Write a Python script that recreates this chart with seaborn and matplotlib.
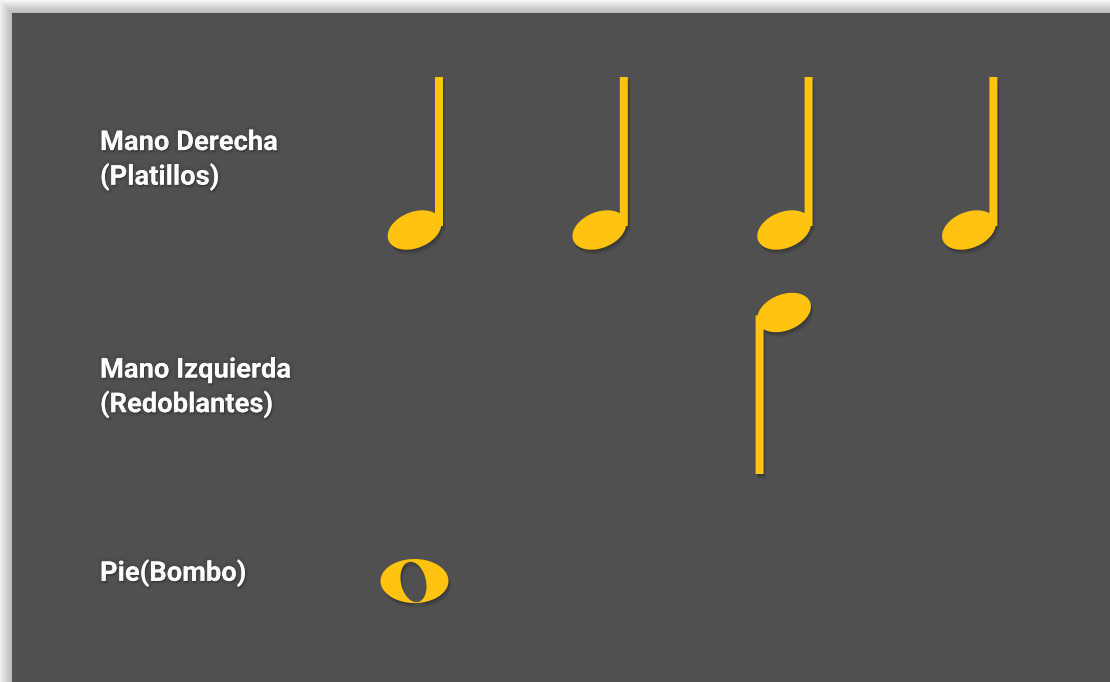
import numpy as np
import pandas as pd
import matplotlib
matplotlib.use("Agg")
import matplotlib.pyplot as plt
import matplotlib.patheffects as pe
import matplotlib.transforms as mtransforms
from matplotlib.path import Path
from matplotlib.patches import Rectangle
import seaborn as sns

# datos del ritmo (un compas de 4 tiempos)
voces = ["Mano Derecha\n(Platillos)", "Mano Izquierda\n(Redoblantes)", "Pie(Bombo)"]
tiempos_mano_derecha = [1, 2, 3, 4]
tiempos_mano_izquierda = [3]
tiempos_pie = [1]
figuras = ["negra_arriba", "negra_abajo", "redonda"]

golpes = pd.DataFrame({
    "voz": [voces[0]] * len(tiempos_mano_derecha)
    + [voces[1]] * len(tiempos_mano_izquierda)
    + [voces[2]] * len(tiempos_pie),
    "tiempo": tiempos_mano_derecha + tiempos_mano_izquierda + tiempos_pie,
})
golpes["fila"] = golpes["voz"].map({v: i for i, v in enumerate(voces)})

# estilo
AMARILLO = "#FFC20E"
GRIS = "#505050"
W, H, DPI = 1110, 682, 100

sns.set_theme(style="white")
plt.rcParams["font.family"] = ["Roboto", "DejaVu Sans"]


# figuras musicales como paths (unidades en pixeles, y hacia arriba)
def elipse(cx, cy, a, b, ang, n=120, reverso=False):
    t = np.linspace(0, 2 * np.pi, n, endpoint=False)
    if reverso:
        t = t[::-1]
    x, y = a * np.cos(t), b * np.sin(t)
    r = np.deg2rad(ang)
    pts = np.column_stack([cx + x * np.cos(r) - y * np.sin(r),
                           cy + x * np.sin(r) + y * np.cos(r)])
    pts = np.vstack([pts, pts[:1]])
    codes = [Path.MOVETO] + [Path.LINETO] * (n - 1) + [Path.CLOSEPOLY]
    return pts, codes


def rectangulo(x0, x1, y0, y1):
    pts = np.array([(x0, y0), (x1, y0), (x1, y1), (x0, y1), (x0, y0)], float)
    codes = [Path.MOVETO, Path.LINETO, Path.LINETO, Path.LINETO, Path.CLOSEPOLY]
    return pts, codes


def juntar(*partes):
    pts = np.vstack([p[0] for p in partes])
    codes = sum([list(p[1]) for p in partes], [])
    return Path(pts, codes)


glifos = {
    "negra_arriba": juntar(elipse(0, -70, 28, 18, 22),
                           rectangulo(20.5, 28.5, -66, 83)),
    "negra_abajo": juntar(elipse(0, 54, 28, 18, 22),
                          rectangulo(-28.5, -20.5, -107.5, 51)),
    "redonda": juntar(elipse(0, -8, 34, 22, 0),
                      elipse(-1, -9, 20.5, 12.5, 103, reverso=True)),
}

sombra = [pe.SimplePatchShadow(offset=(0.3 * k, -0.6 * k), shadow_rgbFace="black", alpha=0.05)
          for k in range(1, 7)] + [pe.Normal()]

fig = plt.figure(figsize=(W / DPI, H / DPI), dpi=DPI)
fig.patch.set_facecolor("white")

# fondo: panel gris con sombra
fondo = fig.add_axes([0, 0, 1, 1])
fondo.set_xlim(0, W)
fondo.set_ylim(H, 0)
fondo.axis("off")
for k in range(1, 15):
    fondo.add_patch(Rectangle((12 - k, 13 - k), W + 50, H + 50, color="black", alpha=0.018, lw=0))
fondo.add_patch(Rectangle((12, 13), W + 50, H + 50, color=GRIS, lw=0))

ax = fig.add_axes([0, 0, 1, 1])
ax.set_facecolor("none")

for i, voz in enumerate(voces):
    glifo = glifos[figuras[i]]
    R = np.max(np.abs(glifo.vertices))
    tam = (2 * R * 72 / DPI) ** 2
    sns.scatterplot(data=golpes[golpes["voz"] == voz], x="tiempo", y="fila",
                    marker=glifo, s=tam, color=AMARILLO, edgecolor="none",
                    linewidth=0, legend=False, ax=ax)
    ax.collections[-1].set_path_effects(sombra)

# escalas: tiempo 1 -> x=414.5 px, separacion 184.8 px; filas cada 206.5 px desde y=160
paso_x, paso_y = 184.8, 206.5
ax.set_xlim(1 - 414.5 / paso_x, 1 + (W - 414.5) / paso_x)
ax.set_ylim((H - 160) / paso_y, -160 / paso_y)
ax.set_axis_off()

ajuste_etiqueta_px = [0, 21, 0]
trans = mtransforms.blended_transform_factory(ax.transAxes, ax.transData)
for i, voz in enumerate(voces):
    ax.text(100 / W, i + ajuste_etiqueta_px[i] / paso_y, voz, transform=trans,
            ha="left", va="center", color="white", fontsize=19.7, fontweight="bold",
            linespacing=1.3,
            path_effects=[pe.Stroke(linewidth=5, foreground=(0, 0, 0, 0.06)),
                          pe.SimplePatchShadow(offset=(0.8, -1.2), shadow_rgbFace="black", alpha=0.22),
                          pe.Normal()])

fig.savefig("out.png", dpi=DPI)
